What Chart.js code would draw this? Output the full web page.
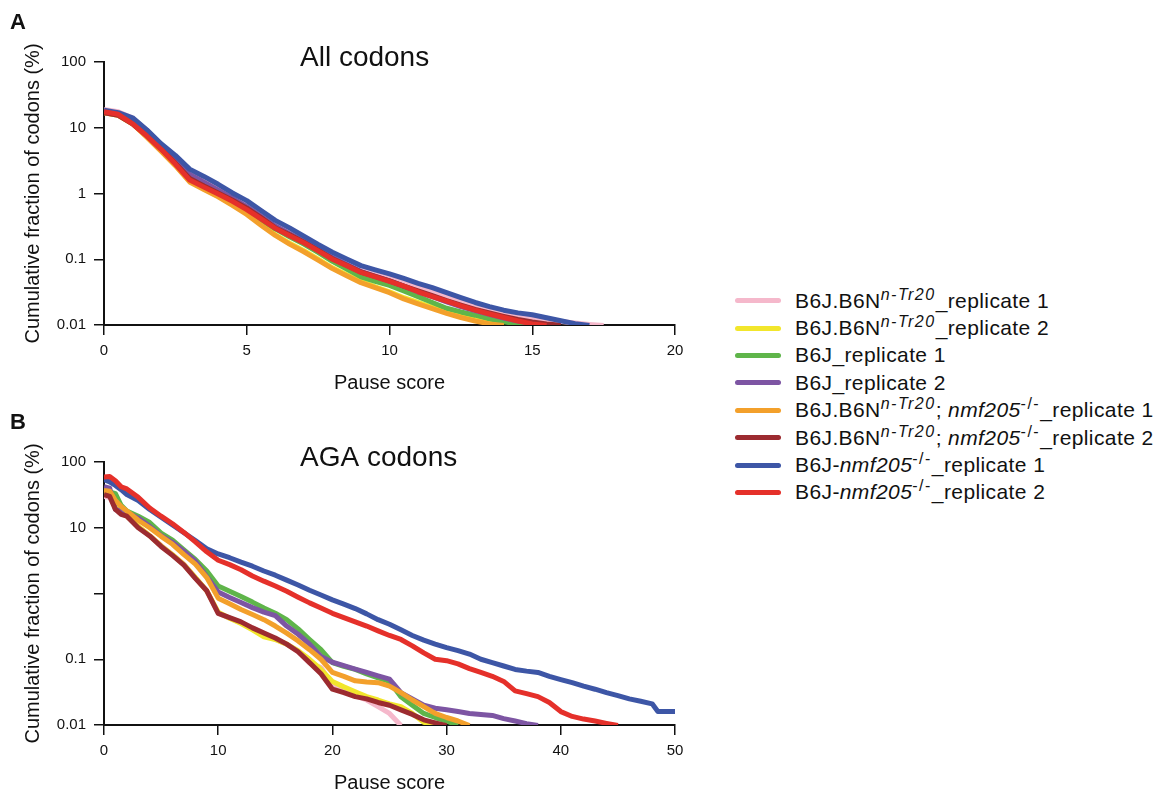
<!DOCTYPE html>
<html>
<head>
<meta charset="utf-8">
<script src="https://cdn.jsdelivr.net/npm/chart.js@4.4.1/dist/chart.umd.min.js"></script>
<style>
html, body { margin: 0; padding: 0; background: #fff; overflow: hidden; }
#wrap { position: relative; width: 1163px; height: 796px; }
canvas { position: absolute; left: 0; }
#chartA { top: 0; }
#chartB { top: 400px; }
#legend { position: absolute; left: 735px; top: 287px; font-family: 'Liberation Sans', Arial, sans-serif; font-size: 21px; letter-spacing: 0.4px; color: #111; }
.row { height: 27.4px; display: flex; align-items: center; white-space: nowrap; }
.sw { width: 46px; height: 5px; border-radius: 3px; margin-right: 14px; flex: none; }
sup { font-size: 16px; letter-spacing: 1.5px; line-height: 0; position: relative; top: -8px; vertical-align: baseline; }
</style>
</head>
<body>
<div id="wrap">
  <canvas id="chartA" width="700" height="400"></canvas>
  <canvas id="chartB" width="700" height="396"></canvas>
  <div id="legend"></div>
</div>
<script>
// series labels (rich text) and colours, same order as legend
const seriesLabels = [
  'B6J.B6N<sup><i>n-Tr20</i></sup>_replicate 1',
  'B6J.B6N<sup><i>n-Tr20</i></sup>_replicate 2',
  'B6J_replicate 1',
  'B6J_replicate 2',
  'B6J.B6N<sup><i>n-Tr20</i></sup>; <i>nmf205</i><sup>-/-</sup>_replicate 1',
  'B6J.B6N<sup><i>n-Tr20</i></sup>; <i>nmf205</i><sup>-/-</sup>_replicate 2',
  'B6J-<i>nmf205</i><sup>-/-</sup>_replicate 1',
  'B6J-<i>nmf205</i><sup>-/-</sup>_replicate 2'
];
const seriesColors = ['#f5b8cb', '#f2e62c', '#5fb54a', '#7d55a3', '#f3a02b', '#9c2b30', '#3d56a6', '#e5302a'];

const yTicks = [0.01, 0.1, 1, 10, 100];

// panel A: all codons (pause score grid)
const xA = [0, 0.5, 1, 1.5, 2, 2.5, 3, 3.5, 4, 4.5, 5, 5.5, 6, 6.5, 7, 7.5, 8, 8.5, 9, 9.5,
  10, 10.5, 11, 11.5, 12, 12.5, 13, 13.5, 14, 14.5, 15, 15.5, 16, 16.5, 17, 17.5];
const pinkA = [19, 17.5, 14, 9.2, 5.5, 3.5, 2.15, 1.65, 1.25, 0.93, 0.7, 0.5, 0.35, 0.27, 0.205, 0.155, 0.118, 0.093, 0.074, 0.063,
  0.053, 0.045, 0.038, 0.032, 0.027, 0.023, 0.0195, 0.0172, 0.0152, 0.0137, 0.0127, 0.0119, 0.0113, 0.0107, 0.0102, 0.0098];
const yellowA = [17, 15.5, 11.5, 7.3, 4.5, 2.7, 1.55, 1.18, 0.91, 0.68, 0.5, 0.34, 0.235, 0.175, 0.135, 0.1, 0.074, 0.058, 0.046, 0.038,
  0.032, 0.026, 0.022, 0.0185, 0.0157, 0.0136, 0.012, 0.0108, 0.0098];
const greenA = [17, 16, 12.5, 8, 5, 3, 1.8, 1.35, 1.02, 0.77, 0.57, 0.4, 0.29, 0.22, 0.17, 0.127, 0.093, 0.071, 0.054, 0.046,
  0.04, 0.033, 0.027, 0.022, 0.018, 0.0158, 0.0141, 0.0124, 0.0112, 0.0103, 0.0098];
const purpleA = [17.5, 16.5, 13, 8.5, 5.2, 3.2, 1.95, 1.48, 1.12, 0.85, 0.63, 0.45, 0.32, 0.245, 0.19, 0.142, 0.106, 0.083, 0.065, 0.055,
  0.047, 0.039, 0.032, 0.027, 0.0225, 0.019, 0.0165, 0.0145, 0.0128, 0.0115, 0.0106, 0.0099];
const orangeA = [17, 15.5, 11.5, 7.2, 4.4, 2.65, 1.5, 1.15, 0.89, 0.66, 0.48, 0.33, 0.23, 0.17, 0.13, 0.097, 0.072, 0.056, 0.044, 0.037,
  0.031, 0.025, 0.021, 0.0178, 0.015, 0.013, 0.0115, 0.0104, 0.0098];
const brownA = [17, 15.5, 11.5, 7.6, 4.8, 2.9, 1.7, 1.3, 1.02, 0.79, 0.6, 0.43, 0.3, 0.235, 0.182, 0.137, 0.102, 0.081, 0.064, 0.055,
  0.047, 0.039, 0.033, 0.028, 0.0235, 0.02, 0.0172, 0.0152, 0.0135, 0.0121, 0.0111, 0.0104, 0.0099];
const blueA = [18.5, 17, 14.2, 9.3, 5.7, 3.8, 2.35, 1.82, 1.38, 1.02, 0.78, 0.55, 0.39, 0.3, 0.225, 0.168, 0.128, 0.101, 0.08, 0.069,
  0.06, 0.051, 0.043, 0.037, 0.031, 0.026, 0.022, 0.019, 0.0168, 0.0153, 0.0143, 0.0129, 0.0116, 0.0105, 0.0098];
const redA = [17.5, 16, 11.5, 7.5, 4.7, 2.8, 1.6, 1.25, 0.98, 0.76, 0.57, 0.41, 0.295, 0.228, 0.178, 0.134, 0.1, 0.08, 0.063, 0.054,
  0.046, 0.039, 0.032, 0.027, 0.023, 0.0195, 0.0168, 0.0147, 0.013, 0.0115, 0.0104, 0.0098];

// panel B: AGA codons
const xB = [0, 0.5, 1, 1.5, 2, 3, 4, 5, 6, 7, 8, 9, 10, 11, 12, 13, 14, 15, 16, 17, 18, 19, 20,
  21, 22, 23, 24, 25, 26, 27, 28, 29, 30, 31, 32, 33, 34, 35, 36, 37, 38, 39, 40,
  41, 42, 43, 44, 45, 46, 47, 48, 48.5, 49, 50];
const pinkB = [30, 29, 27, 17, 15, 10.5, 7.6, 5.4, 3.9, 2.8, 1.75, 1.1, 0.5, 0.42, 0.36, 0.3, 0.25, 0.2, 0.17, 0.13,
  0.088, 0.075, 0.04, 0.033, 0.028, 0.024, 0.019, 0.015, 0.0098];
const yellowB = [36, 34, 22, 17, 15, 10.5, 7.6, 5.3, 3.9, 2.75, 1.75, 1.1, 0.52, 0.42, 0.35, 0.28, 0.22, 0.2, 0.17, 0.135,
  0.1, 0.07, 0.046, 0.038, 0.032, 0.027, 0.024, 0.021, 0.019, 0.015, 0.011, 0.0098];
const greenB = [36, 35, 33, 22, 18, 15, 12, 8.3, 6.5, 4.6, 3.3, 2.2, 1.3, 1.08, 0.9, 0.74, 0.6, 0.5, 0.4, 0.29,
  0.2, 0.14, 0.089, 0.078, 0.07, 0.06, 0.052, 0.046, 0.027, 0.02, 0.015, 0.013, 0.0115, 0.0098];
const purpleB = [42, 40, 19, 18, 17, 14, 10.5, 7.6, 6, 4.4, 3.1, 1.8, 1.05, 0.87, 0.73, 0.61, 0.52, 0.46, 0.32, 0.24,
  0.17, 0.11, 0.09, 0.08, 0.071, 0.063, 0.056, 0.05, 0.031, 0.025, 0.02, 0.018, 0.017, 0.016, 0.015, 0.0145,
  0.014, 0.0125, 0.0115, 0.0105, 0.0098];
const orangeB = [37, 36, 26, 21, 18, 13, 10, 7.4, 5.6, 3.9, 2.8, 1.75, 0.85, 0.7, 0.57, 0.48, 0.4, 0.32, 0.25, 0.19,
  0.14, 0.1, 0.063, 0.055, 0.047, 0.045, 0.044, 0.039, 0.031, 0.024, 0.019, 0.015, 0.013, 0.0115, 0.0098];
const brownB = [32, 30, 19, 16, 15, 10, 7.5, 5.2, 3.8, 2.7, 1.7, 1.1, 0.5, 0.43, 0.37, 0.3, 0.25, 0.21, 0.17, 0.13,
  0.089, 0.06, 0.035, 0.031, 0.027, 0.025, 0.022, 0.02, 0.017, 0.0145, 0.012, 0.0108, 0.0098];
const blueB = [54, 50, 44, 38, 32, 26, 19, 14.5, 11, 8.4, 6.4, 4.8, 4, 3.5, 3.0, 2.6, 2.2, 1.9, 1.6, 1.35,
  1.12, 0.95, 0.8, 0.69, 0.59, 0.49, 0.4, 0.34, 0.28, 0.23, 0.195, 0.17, 0.15, 0.135, 0.12, 0.1,
  0.089, 0.079, 0.07, 0.066, 0.063, 0.055, 0.049, 0.044, 0.039, 0.035, 0.031, 0.028, 0.025, 0.023,
  0.021, 0.016, 0.016, 0.016];
const redB = [59, 60, 52, 42, 39, 29, 20, 15, 11.5, 8.5, 6.1, 4.3, 3.2, 2.75, 2.3, 1.85, 1.54, 1.3, 1.08, 0.88,
  0.72, 0.6, 0.5, 0.43, 0.37, 0.32, 0.27, 0.23, 0.2, 0.16, 0.125, 0.1, 0.095, 0.085, 0.072, 0.063,
  0.055, 0.046, 0.033, 0.03, 0.027, 0.022, 0.016, 0.0135, 0.0123, 0.0115, 0.0106, 0.0098];

const seriesA = [pinkA, yellowA, greenA, purpleA, orangeA, brownA, blueA, redA];
const seriesB = [pinkB, yellowB, greenB, purpleB, orangeB, brownB, blueB, redB];

const FONT = "'Liberation Sans', Arial, Helvetica, sans-serif";

// panel letter + title drawn in the top margin
const panelText = {
  id: 'panelText',
  afterDraw(chart, args, opts) {
    const ctx = chart.ctx;
    ctx.save();
    ctx.fillStyle = '#111';
    ctx.textBaseline = 'alphabetic';
    ctx.textAlign = 'left';
    ctx.font = 'bold 22px ' + FONT;
    ctx.fillText(opts.letter, 10, 29);
    ctx.font = '28px ' + FONT;
    ctx.fillText(opts.title, 300, 66);
    ctx.restore();
  }
};

function makePanel(id, xs, series, xMax, xStep, letter, title, hideOne, xAxisHeight, xTitlePad) {
  const datasets = series.map((vals, i) => ({
    label: seriesLabels[i].replace(/<[^>]+>/g, ''),
    data: vals.map((v, j) => ({ x: xs[j], y: v })),
    borderColor: seriesColors[i],
    backgroundColor: seriesColors[i],
    borderWidth: 5,
    pointRadius: 0,
    tension: 0,
    borderJoinStyle: 'round',
    order: series.length - i
  }));
  return new Chart(document.getElementById(id), {
    type: 'line',
    data: { datasets },
    plugins: [panelText],
    options: {
      responsive: false,
      animation: false,
      devicePixelRatio: 1,
      layout: { padding: { top: 62, right: 25, left: 0, bottom: 0 } },
      plugins: {
        legend: { display: false },
        tooltip: { enabled: false },
        panelText: { letter, title }
      },
      scales: {
        x: {
          type: 'linear',
          min: 0,
          max: xMax,
          afterFit: (s) => { s.height = xAxisHeight; },
          border: { display: true, color: '#111', width: 2 },
          grid: { display: true, drawOnChartArea: false, drawTicks: true, tickLength: 10, color: '#111', lineWidth: 1.5 },
          ticks: { stepSize: xStep, color: '#111', padding: 7, maxRotation: 0, font: { family: FONT, size: 15 } },
          title: { display: true, text: 'Pause score', color: '#111', font: { family: FONT, size: 20 }, padding: { top: 0, bottom: xTitlePad } }
        },
        y: {
          type: 'logarithmic',
          min: 0.01,
          max: 100,
          afterFit: (s) => { s.width = 104; },
          afterBuildTicks: (s) => { s.ticks = yTicks.map(v => ({ value: v })); },
          border: { display: true, color: '#111', width: 2 },
          grid: { display: true, drawOnChartArea: false, drawTicks: true, tickLength: 10, color: '#111', lineWidth: 1.5 },
          ticks: {
            color: '#111', padding: 8, font: { family: FONT, size: 15 },
            callback: (v) => (hideOne && v === 1) ? '' : String(v)
          },
          title: { display: true, text: 'Cumulative fraction of codons (%)', color: '#111', font: { family: FONT, size: 20 }, padding: { top: 21, bottom: 0 } }
        }
      }
    }
  });
}

makePanel('chartA', xA, seriesA, 20, 5, 'A', 'All codons', false, 75, 5);
makePanel('chartB', xB, seriesB, 50, 10, 'B', 'AGA codons', true, 71, 1);

// legend with italic / superscript parts
const legend = document.getElementById('legend');
seriesLabels.forEach((lab, i) => {
  const row = document.createElement('div');
  row.className = 'row';
  row.innerHTML = '<span class="sw" style="background:' + seriesColors[i] + '"></span><span>' + lab + '</span>';
  legend.appendChild(row);
});
</script>
</body>
</html>
